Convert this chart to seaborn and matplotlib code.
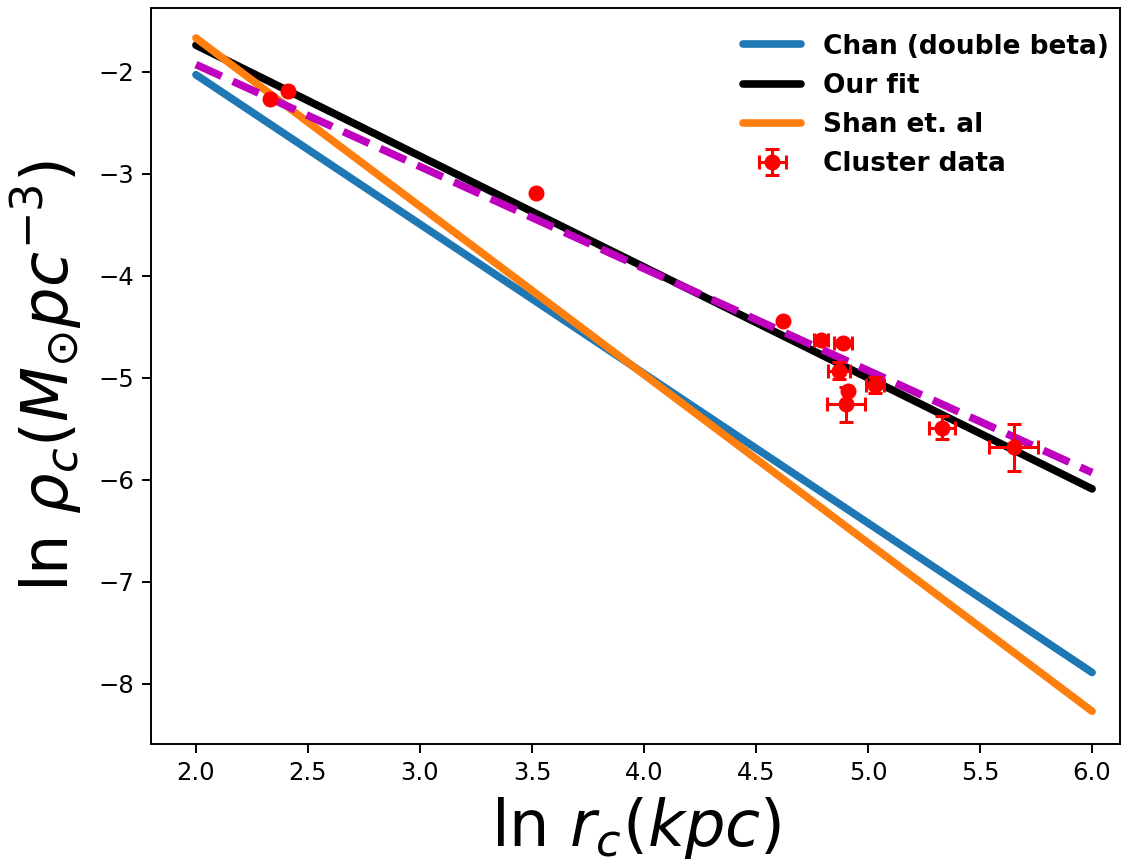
import matplotlib
matplotlib.use("Agg")
import matplotlib.pyplot as plt
import seaborn as sns
import pandas as pd

# model lines, evaluated at the two ends of the range
line_x = [2.0, 6.0]
chan_y = [-2.03, -7.89]
ourfit_y = [-1.74, -6.09]
shan_y = [-1.67, -8.27]
other_y = [-1.93, -5.93]

# cluster data (ln r_c, ln rho_c) with errors
ln_rc = [2.33, 2.41, 3.52, 4.62, 4.79, 4.89, 4.87, 4.91, 4.90, 5.03, 5.33, 5.65]
ln_rho = [-2.27, -2.19, -3.19, -4.44, -4.63, -4.66, -4.93, -5.13, -5.26, -5.07, -5.49, -5.68]
xerr = [0.0, 0.0, 0.0, 0.0, 0.03, 0.04, 0.05, 0.0, 0.085, 0.04, 0.06, 0.11]
yerr = [0.0, 0.0, 0.0, 0.0, 0.02, 0.03, 0.08, 0.0, 0.17, 0.08, 0.11, 0.23]

sns.set_style("ticks")
plt.rcParams['font.family'] = ['DejaVu Sans']
plt.rcParams['text.color'] = 'black'

fig = plt.figure(figsize=(11.28, 8.59), dpi=100)
ax = fig.add_axes([0.134, 0.134, 0.859, 0.857])

lines = pd.DataFrame({"x": line_x, "chan": chan_y, "ours": ourfit_y,
                      "shan": shan_y, "other": other_y})

lw = 5.5
sns.lineplot(data=lines, x="x", y="chan", ax=ax, color="#1f77b4", lw=lw, label="Chan (double beta)")
sns.lineplot(data=lines, x="x", y="ours", ax=ax, color="black", lw=lw, label="Our fit")
sns.lineplot(data=lines, x="x", y="shan", ax=ax, color="#ff7f0e", lw=lw, label="Shan et. al")
ax.plot(lines["x"], lines["other"], color="m", lw=lw, ls="--")

ax.errorbar(ln_rc, ln_rho, xerr=xerr, yerr=yerr, fmt="o", color="red",
            markersize=10.5, elinewidth=2.2, capsize=5.3, capthick=2.2, label="Cluster data")

ax.set_xlim(1.8, 6.125)
ax.set_ylim(-8.59, -1.373)
ax.set_xticks([2.0, 2.5, 3.0, 3.5, 4.0, 4.5, 5.0, 5.5, 6.0])
ax.set_yticks([-8, -7, -6, -5, -4, -3, -2])
ax.tick_params(labelsize=17.5, colors="black", length=6.2, width=1.4, pad=6)
for s in ax.spines.values():
    s.set_color("black")
    s.set_linewidth(1.4)

ax.set_xlabel(r"ln $r_c(kpc)$", fontsize=46, color="black", labelpad=7)
ax.set_ylabel(r"ln $\rho_c(M_{\odot}pc^{-3})$", fontsize=46, color="black", labelpad=10)

ax.legend(loc="upper right", frameon=False, handlelength=2.2,
          prop={"weight": "bold", "size": 19}, borderaxespad=0.3,
          bbox_to_anchor=(1.007, 0.99))

fig.savefig("out.png", dpi=100)
